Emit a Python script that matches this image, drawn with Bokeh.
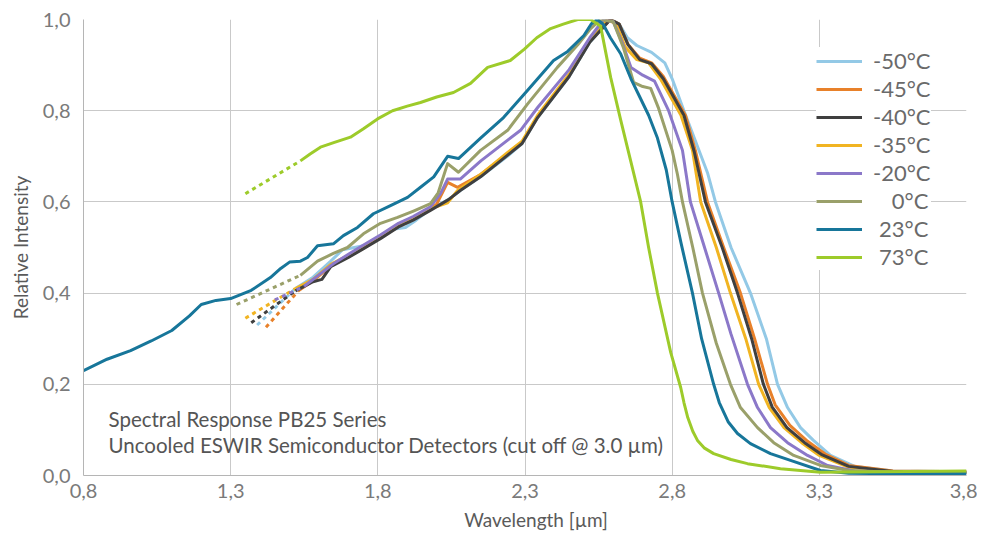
from bokeh.plotting import figure
from bokeh.models import Range1d, FixedTicker, CustomJSTickFormatter
from bokeh.core.properties import value
from bokeh.embed import file_html
from bokeh.resources import INLINE

# ---------------- data ----------------
x_ticks = [0.8, 1.3, 1.8, 2.3, 2.8, 3.3, 3.8]
y_ticks = [0.0, 0.2, 0.4, 0.6, 0.8, 1.0]

title_line1 = "Spectral Response PB25 Series"
title_line2 = "Uncooled ESWIR Semiconductor Detectors (cut off @ 3.0 \u00b5m)"
x_label = "Wavelength [\u00b5m]"
y_label = "Relative Intensity"

series_names = ["-50\u00b0C", "-45\u00b0C", "-40\u00b0C", "-35\u00b0C", "-20\u00b0C", "0\u00b0C", "23\u00b0C", "73\u00b0C"]
legend_labels = ["-50\u00b0C", "-45\u00b0C", "-40\u00b0C", "-35\u00b0C", "-20\u00b0C",
                 "\u2008\u200a\u20070\u00b0C", "\u2008\u200a23\u00b0C", "\u2008\u200a73\u00b0C"]
colors = ["#93c9e6", "#e8812a", "#3f3f3f", "#f1b422", "#8b78c9", "#9aa06a", "#17769a", "#9dcb2a"]

# -50 C
xd_m50 = [1.39, 1.52]
yd_m50 = [0.33, 0.41]
x_m50 = [1.52, 1.58, 1.64, 1.68, 1.72, 1.76, 1.81, 1.85, 1.894, 1.93, 1.98, 2.04, 2.08, 2.149, 2.24, 2.29, 2.343,
         2.45, 2.52, 2.59, 2.62, 2.648, 2.68, 2.73, 2.775, 2.80, 2.84, 2.92, 2.947, 3.00, 3.066, 3.12, 3.158,
         3.192, 3.236, 3.28, 3.338, 3.42, 3.55, 3.80]
y_m50 = [0.41, 0.435, 0.47, 0.495, 0.50, 0.505, 0.525, 0.54, 0.544, 0.56, 0.585, 0.605, 0.625, 0.655, 0.70, 0.728,
         0.785, 0.875, 0.95, 1.0, 0.99, 0.96, 0.943, 0.928, 0.905, 0.87, 0.80, 0.664, 0.60, 0.50, 0.40, 0.30, 0.20,
         0.149, 0.105, 0.077, 0.044, 0.02, 0.01, 0.008]

# -45 C
xd_m45 = [1.42, 1.53]
yd_m45 = [0.325, 0.405]
x_m45 = [1.53, 1.58, 1.64, 1.70, 1.75, 1.81, 1.87, 1.92, 1.98, 2.00, 2.037, 2.071, 2.149, 2.24, 2.29, 2.343, 2.45,
         2.52, 2.59, 2.62, 2.65, 2.69, 2.73, 2.77, 2.845, 2.88, 2.92, 2.975, 3.032, 3.08, 3.124, 3.15, 3.20, 3.26,
         3.32, 3.40, 3.55, 3.80]
y_m45 = [0.405, 0.427, 0.46, 0.48, 0.498, 0.522, 0.546, 0.562, 0.585, 0.595, 0.643, 0.632, 0.66, 0.705, 0.73, 0.787,
         0.877, 0.952, 1.0, 0.99, 0.945, 0.915, 0.905, 0.875, 0.79, 0.71, 0.60, 0.50, 0.40, 0.30, 0.20, 0.155, 0.11,
         0.075, 0.047, 0.022, 0.01, 0.008]

# -40 C
xd_m40 = [1.37, 1.52]
yd_m40 = [0.335, 0.405]
x_m40 = [1.52, 1.58, 1.61, 1.64, 1.70, 1.75, 1.81, 1.87, 1.92, 1.98, 2.04, 2.08, 2.149, 2.24, 2.29, 2.343, 2.45,
         2.52, 2.59, 2.62, 2.65, 2.69, 2.73, 2.77, 2.84, 2.875, 2.913, 2.97, 3.022, 3.07, 3.11, 3.14, 3.19, 3.25,
         3.31, 3.40, 3.55, 3.80]
y_m40 = [0.405, 0.425, 0.43, 0.458, 0.478, 0.497, 0.52, 0.545, 0.56, 0.582, 0.605, 0.625, 0.655, 0.702, 0.728,
         0.785, 0.875, 0.95, 1.0, 0.99, 0.945, 0.912, 0.903, 0.87, 0.79, 0.71, 0.60, 0.50, 0.40, 0.30, 0.20, 0.15,
         0.105, 0.072, 0.045, 0.02, 0.009, 0.007]

# -35 C
xd_m35 = [1.35, 1.52]
yd_m35 = [0.345, 0.41]
x_m35 = [1.52, 1.58, 1.64, 1.70, 1.75, 1.81, 1.87, 1.92, 1.98, 2.00, 2.037, 2.071, 2.149, 2.24, 2.29, 2.343, 2.45,
         2.52, 2.58, 2.61, 2.64, 2.68, 2.72, 2.76, 2.83, 2.869, 2.897, 2.95, 2.998, 3.05, 3.094, 3.13, 3.18, 3.24,
         3.30, 3.40, 3.55, 3.80]
y_m35 = [0.41, 0.43, 0.463, 0.483, 0.50, 0.524, 0.548, 0.563, 0.585, 0.59, 0.598, 0.625, 0.66, 0.708, 0.733, 0.79,
         0.88, 0.955, 1.0, 0.99, 0.94, 0.912, 0.905, 0.87, 0.79, 0.713, 0.60, 0.50, 0.40, 0.30, 0.20, 0.149, 0.105,
         0.072, 0.044, 0.018, 0.008, 0.007]

# -20 C
xd_m20 = [1.45, 1.55]
yd_m20 = [0.385, 0.415]
x_m20 = [1.55, 1.60, 1.65, 1.70, 1.75, 1.81, 1.87, 1.92, 1.98, 2.013, 2.037, 2.08, 2.15, 2.24, 2.285, 2.343, 2.45,
         2.52, 2.567, 2.60, 2.63, 2.66, 2.70, 2.74, 2.788, 2.835, 2.862, 2.91, 2.958, 3.00, 3.056, 3.09, 3.134,
         3.192, 3.26, 3.328, 3.42, 3.55, 3.80]
y_m20 = [0.415, 0.44, 0.465, 0.485, 0.505, 0.528, 0.553, 0.568, 0.59, 0.618, 0.65, 0.65, 0.69, 0.735, 0.757, 0.807,
         0.89, 0.96, 1.0, 0.995, 0.95, 0.895, 0.878, 0.865, 0.80, 0.713, 0.60, 0.50, 0.40, 0.31, 0.20, 0.149, 0.105,
         0.072, 0.044, 0.022, 0.01, 0.007, 0.006]

# 0 C
xd_0 = [1.32, 1.537]
yd_0 = [0.375, 0.439]
x_0 = [1.537, 1.595, 1.649, 1.697, 1.751, 1.809, 1.867, 1.921, 1.979, 2.005, 2.037, 2.074, 2.149, 2.241, 2.309,
       2.41, 2.48, 2.523, 2.557, 2.60, 2.635, 2.669, 2.70, 2.727, 2.754, 2.80, 2.818, 2.835, 2.87, 2.903, 2.95,
       2.998, 3.032, 3.09, 3.145, 3.213, 3.304, 3.40, 3.55, 3.80]
y_0 = [0.439, 0.47, 0.487, 0.50, 0.53, 0.553, 0.566, 0.58, 0.596, 0.62, 0.684, 0.665, 0.713, 0.757, 0.815, 0.895,
       0.945, 0.98, 1.0, 0.995, 0.937, 0.862, 0.853, 0.849, 0.805, 0.713, 0.66, 0.60, 0.50, 0.40, 0.29, 0.20,
       0.149, 0.105, 0.072, 0.044, 0.022, 0.011, 0.007, 0.006]

# 23 C
x_23 = [0.80, 0.88, 0.96, 1.03, 1.10, 1.16, 1.20, 1.25, 1.30, 1.37, 1.435, 1.47, 1.50, 1.537, 1.561, 1.595, 1.649,
        1.683, 1.731, 1.785, 1.843, 1.901, 1.945, 1.99, 2.037, 2.074, 2.149, 2.227, 2.309, 2.397, 2.445, 2.50,
        2.525, 2.545, 2.565, 2.59, 2.625, 2.66, 2.69, 2.72, 2.75, 2.78, 2.80, 2.83, 2.869, 2.90, 2.941, 2.96,
        2.99, 3.022, 3.066, 3.134, 3.202, 3.304, 3.40, 3.55, 3.80]
y_23 = [0.23, 0.255, 0.274, 0.295, 0.318, 0.35, 0.375, 0.384, 0.388, 0.406, 0.434, 0.454, 0.468, 0.470, 0.478,
        0.504, 0.508, 0.526, 0.544, 0.574, 0.592, 0.61, 0.632, 0.655, 0.70, 0.695, 0.74, 0.785, 0.845, 0.91, 0.93,
        0.965, 0.99, 1.0, 0.99, 0.96, 0.925, 0.87, 0.83, 0.79, 0.74, 0.67, 0.60, 0.51, 0.40, 0.30, 0.20, 0.16,
        0.118, 0.092, 0.07, 0.048, 0.033, 0.011, 0.005, 0.004, 0.004]

# 73 C
xd_73 = [1.35, 1.537]
yd_73 = [0.618, 0.69]
x_73 = [1.537, 1.57, 1.605, 1.65, 1.707, 1.75, 1.799, 1.85, 1.90, 1.945, 2.00, 2.057, 2.115, 2.173, 2.25, 2.298,
        2.34, 2.387, 2.43, 2.479, 2.523, 2.557, 2.591, 2.625, 2.659, 2.693, 2.72, 2.75, 2.795, 2.829, 2.84, 2.853,
        2.87, 2.886, 2.91, 2.941, 3.0, 3.056, 3.168, 3.304, 3.50, 3.80]
y_73 = [0.69, 0.705, 0.72, 0.73, 0.742, 0.76, 0.782, 0.80, 0.81, 0.818, 0.83, 0.84, 0.86, 0.895, 0.91, 0.935,
        0.96, 0.98, 0.99, 1.0, 1.0, 0.985, 0.873, 0.78, 0.69, 0.60, 0.50, 0.40, 0.27, 0.193, 0.16, 0.127,
        0.097, 0.077, 0.06, 0.048, 0.035, 0.026, 0.015, 0.007, 0.008, 0.01]

solid_x = [x_m50, x_m45, x_m40, x_m35, x_m20, x_0, x_23, x_73]
solid_y = [y_m50, y_m45, y_m40, y_m35, y_m20, y_0, y_23, y_73]
dotted_x = [xd_m50, xd_m45, xd_m40, xd_m35, xd_m20, xd_0, None, xd_73]
dotted_y = [yd_m50, yd_m45, yd_m40, yd_m35, yd_m20, yd_0, None, yd_73]

# ---------------- figure ----------------
FONT = "Lato"
p = figure(width=977, height=535, x_range=Range1d(0.8, 3.8), y_range=Range1d(0.0, 1.0),
           output_backend="svg", toolbar_location=None,
           min_border_left=83, min_border_right=11, min_border_top=19, min_border_bottom=60)
p.outline_line_color = None
p.background_fill_color = "white"
p.border_fill_color = "white"

fmt = CustomJSTickFormatter(code="return tick.toFixed(1).replace('.', ',');")
for ax, ticks in ((p.xaxis[0], x_ticks), (p.yaxis[0], y_ticks)):
    ax.ticker = FixedTicker(ticks=ticks)
    ax.formatter = fmt
    ax.major_tick_line_color = None
    ax.minor_tick_line_color = None
    ax.axis_line_color = "#b5b5b5"
    ax.major_label_text_font = FONT
    ax.major_label_text_font_size = "20px"
    ax.major_label_text_color = "#7a7a7a"
    ax.axis_label_text_font = FONT
    ax.axis_label_text_font_size = "19px"
    ax.axis_label_text_font_style = "normal"
    ax.axis_label_text_color = "#5a5a5a"

# leading figure spaces shift the centred x title slightly right, as in the reference
p.xaxis.axis_label = "\u2007\u2007" + x_label
p.yaxis.axis_label = y_label
p.xaxis.major_label_standoff = 2
p.xaxis.axis_label_standoff = 7
p.yaxis.major_label_standoff = 7
p.yaxis.axis_label_standoff = 8

p.xgrid.ticker = FixedTicker(ticks=x_ticks)
p.ygrid.ticker = FixedTicker(ticks=y_ticks)
p.grid.grid_line_color = "#c9c9c9"
p.grid.grid_line_width = 1

draw_order = [0, 1, 3, 2, 4, 5, 6, 7]
for i in draw_order:
    if dotted_x[i] is not None:
        p.line(dotted_x[i], dotted_y[i], line_color=colors[i], line_width=3, line_dash="4 4")
    p.line(solid_x[i], solid_y[i], line_color=colors[i], line_width=3, line_join="round",
           legend_label=legend_labels[i])

leg = p.legend[0]
leg.items = sorted(leg.items, key=lambda it: legend_labels.index(it.label.value))
leg.location = (733, 205)
leg.background_fill_color = "white"
leg.background_fill_alpha = 1.0
leg.border_line_color = None
leg.label_text_font = FONT
leg.label_text_font_size = "22px"
leg.label_text_color = "#6a6a6a"
leg.glyph_width = 46
leg.glyph_height = 22
leg.label_height = 22
leg.spacing = 1
leg.padding = 4
leg.margin = 0
leg.label_standoff = 11

p.text(x=[0.885], y=[0.123], text=[title_line1], text_font=value(FONT), text_font_size="20.5px",
       text_color="#555555", text_baseline="alphabetic")
p.text(x=[0.885], y=[0.066], text=[title_line2], text_font=value(FONT), text_font_size="20.5px",
       text_color="#555555", text_baseline="alphabetic")

open("out.html", "w").write(file_html(p, INLINE))
